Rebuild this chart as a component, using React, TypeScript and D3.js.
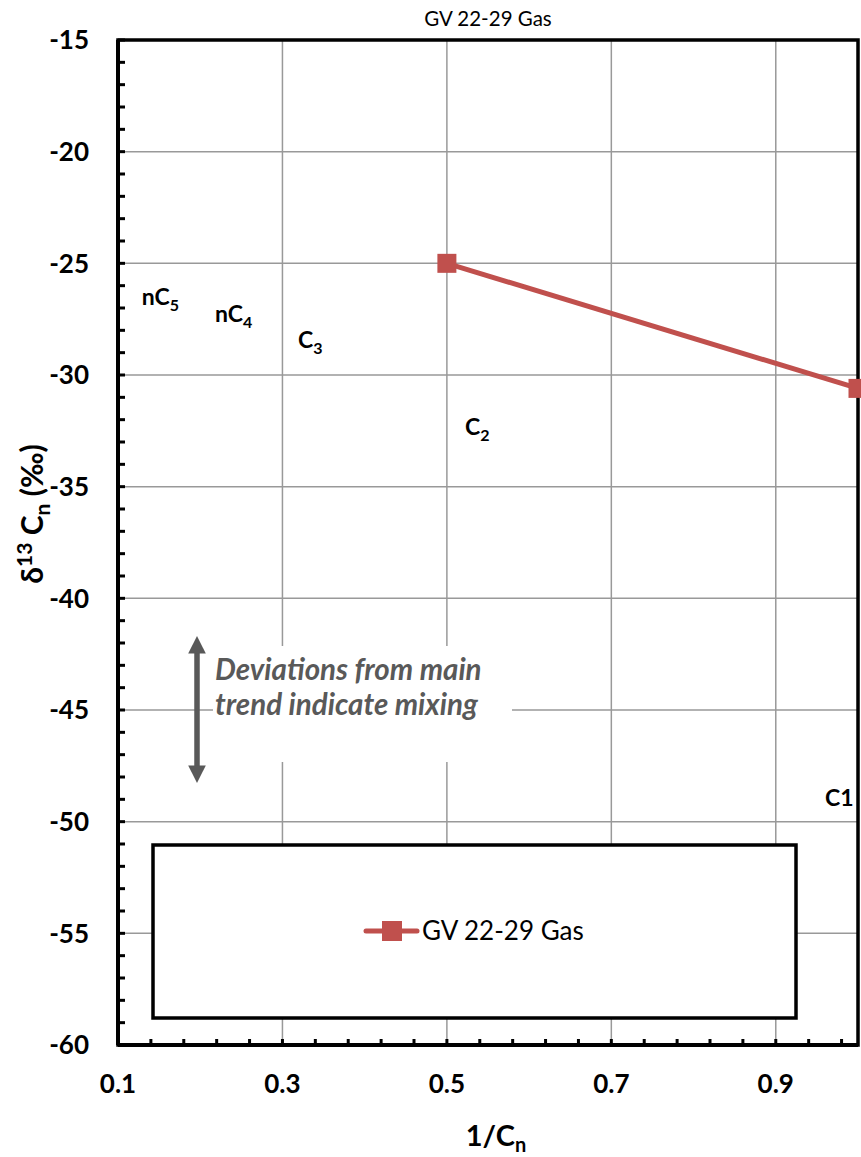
import React from 'react';
import * as d3 from 'd3';

// 1/Cn vs delta13C values
const seriesName = 'GV 22-29 Gas';
const xValues = [0.5, 1.0];
const yValues = [-25, -30.6];

const xMajorTicks = [0.1, 0.3, 0.5, 0.7, 0.9];
const xMinorTicks = d3.range(0, 23).map(i => 0.1 + i * 0.04);
const yMajorTicks = [-15, -20, -25, -30, -35, -40, -45, -50, -55, -60];
const yMinorTicks = d3.range(-60, -14, 1);

const compoundLabels = [
    { main: 'nC', sub: '5', x: 0.129, y: -26.87 },
    { main: 'nC', sub: '4', x: 0.218, y: -27.63 },
    { main: 'C', sub: '3', x: 0.319, y: -28.79 },
    { main: 'C', sub: '2', x: 0.522, y: -32.69 },
    { main: 'C1', sub: '', x: 0.96, y: -49.3 },
];

const W = 861;
const H = 1157;
const margin = { top: 40, right: 3, bottom: 112, left: 118 };
const font = 'Lato, "Open Sans", sans-serif';
const red = '#C0504D';
const grey = '#595959';

const App: React.FC = () => {
    const x = d3.scaleLinear().domain([0.1, 1.0]).range([margin.left, W - margin.right]);
    const y = d3.scaleLinear().domain([-15, -60]).range([margin.top, H - margin.bottom]);
    const line = d3.line<number>()
        .x((_, i) => x(xValues[i]))
        .y(d => y(d));

    const [x0, x1] = x.range();
    const [y0, y1] = y.range();

    return (
        <svg width={W} height={H} style={{ display: 'block', position: 'absolute', left: 0, top: 0 }}>
            <rect width={W} height={H} fill="#fff" />
            {/* grid */}
            {xMajorTicks.slice(1).map(t => (
                <line key={'gx' + t} x1={x(t)} x2={x(t)} y1={y0} y2={y1} stroke="#999" strokeWidth={1.5} />
            ))}
            {yMajorTicks.slice(1, -1).map(t => (
                <line key={'gy' + t} x1={x0} x2={x1} y1={y(t)} y2={y(t)} stroke="#999" strokeWidth={1.5} />
            ))}

            {/* minor ticks inside */}
            {xMinorTicks.map(t => (
                <line key={'mx' + t} x1={x(t)} x2={x(t)} y1={y1} y2={y1 - 6} stroke="#000" strokeWidth={3} />
            ))}
            {yMinorTicks.map(t => (
                <line key={'my' + t} x1={x0} x2={x0 + 7} y1={y(t)} y2={y(t)} stroke="#000" strokeWidth={3} />
            ))}

            {/* frame */}
            <rect x={x0} y={y0} width={x1 - x0} height={y1 - y0} fill="none" stroke="#000" strokeWidth={3.5} />
            <line x1={x0} x2={x0} y1={y0} y2={y1} stroke="#000" strokeWidth={4} />
            <line x1={x0} x2={x1} y1={y1} y2={y1} stroke="#000" strokeWidth={4} />

            {/* annotation */}
            <rect x={213} y={646} width={299} height={116} fill="#fff" />
            <defs>
                <marker id="arr" viewBox="0 0 10 10" refX={2} refY={5} markerWidth={3.4} markerHeight={3.2} orient="auto-start-reverse" markerUnits="strokeWidth">
                    <path d="M0,0 L10,5 L0,10 z" fill={grey} />
                </marker>
            </defs>
            <line x1={197} x2={197} y1={650} y2={769} stroke={grey} strokeWidth={5.5}
                markerStart="url(#arr)" markerEnd="url(#arr)" />
            <text x={215} y={680} fontFamily={font} fontSize={29.5} fontWeight="bold" fontStyle="italic" fill={grey}>
                Deviations from main
            </text>
            <text x={215} y={715} fontFamily={font} fontSize={29.5} fontWeight="bold" fontStyle="italic" fill={grey}>
                trend indicate mixing
            </text>

            {/* compound labels */}
            {compoundLabels.map(l => (
                <text key={l.main + l.sub} x={x(l.x)} y={y(l.y)} fontFamily={font} fontSize={23} fontWeight="bold" fill="#000">
                    {l.main}
                    {l.sub && <tspan fontSize={16} dy={6}>{l.sub}</tspan>}
                </text>
            ))}

            {/* series */}
            <path d={line(yValues) ?? ''} fill="none" stroke={red} strokeWidth={5} />
            {yValues.map((v, i) => (
                <rect key={'p' + i} x={x(xValues[i]) - 9.5} y={y(v) - 9.5} width={19} height={19} fill={red} />
            ))}

            {/* tick labels */}
            {yMajorTicks.map(t => (
                <text key={'ly' + t} x={89} y={y(t)} dy="0.36em" textAnchor="end" fontFamily={font} fontSize={26} fontWeight="bold">
                    {t}
                </text>
            ))}
            {xMajorTicks.map(t => (
                <text key={'lx' + t} x={x(t)} y={1093} textAnchor="middle" fontFamily={font} fontSize={26} fontWeight="bold">
                    {t.toFixed(1)}
                </text>
            ))}

            {/* axis titles */}
            <text x={496} y={1146} textAnchor="middle" fontFamily={font} fontSize={29} fontWeight="bold">
                1/C<tspan fontSize={20} dy={6}>n</tspan>
            </text>
            <text transform={`translate(43,514) rotate(-90)`} textAnchor="middle" fontFamily={font} fontSize={30} fontWeight="bold">
                δ<tspan fontSize={21} dy={-11}>13</tspan><tspan dy={11}> C</tspan><tspan fontSize={21} dy={7}>n</tspan><tspan dy={-7}> (‰)</tspan>
            </text>

            {/* chart title */}
            <text x={488} y={26} textAnchor="middle" fontFamily={font} fontSize={20.5}>
                {seriesName}
            </text>

            {/* legend */}
            <rect x={153} y={845} width={643} height={173} fill="#fff" stroke="#000" strokeWidth={3.5} />
            <line x1={366} x2={417} y1={931} y2={931} stroke={red} strokeWidth={5} strokeLinecap="round" />
            <rect x={382} y={921} width={20} height={20} fill={red} />
            <text x={422} y={931} dy="0.36em" fontFamily={font} fontSize={26}>
                {seriesName}
            </text>
        </svg>
    );
};

export default App;
